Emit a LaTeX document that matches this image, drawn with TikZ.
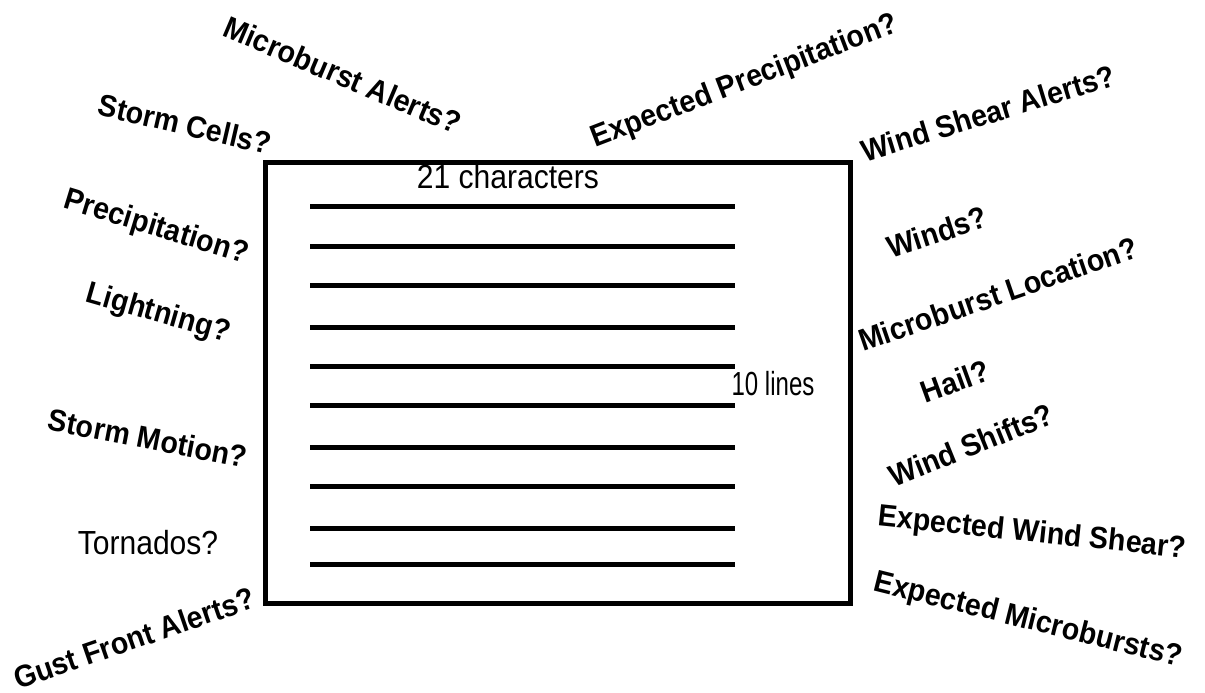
\documentclass[tikz,border=0pt]{standalone}
\usepackage{fontspec}
\setmainfont{Liberation Sans}
\tikzset{
  ask/.style={inner sep=0pt, font=\fontsize{17.5}{19}\selectfont\bfseries, rotate=#1, xscale=0.93},
  plain/.style={inner sep=0pt, anchor=base, font=\fontsize{19}{21}\selectfont},
  rule/.style={line width=0.1cm}
}
\begin{document}
\begin{tikzpicture}[x=0.02cm,y=-0.02cm]
				\useasboundingbox (0,0) rectangle (1205,693);
				\draw[rule] (265,162) rectangle (850,603);
				\foreach \y in {206,246,285,327,366,405,447,486,528,564} {\draw[rule] (310,\y) -- (735,\y);}
				\node[plain, xscale=0.9] (width) at (508,188) {21 characters};
				\node[plain, xscale=0.72] (height) at (773,395) {10 lines};
				\node[plain, xscale=0.9] (tornado) at (148,554) {Tornados?};
				\node[ask=-23] (mbalert) at (343,75) {Microburst Alerts?};
				\node[ask=-13] (cells) at (185,124) {Storm Cells?};
				\node[ask=-17] (precip) at (156,228) {Precipitation?};
				\node[ask=-16] (lightning) at (158,314) {Lightning?};
				\node[ask=-11] (motion) at (148,438) {Storm Motion?};
				\node[ask=19] (gust) at (134,638) {Gust Front Alerts?};
				\node[ask=21] (xprecip) at (745,82) {Expected Precipitation?};
				\node[ask=17] (wsalert) at (988,113) {Wind Shear Alerts?};
				\node[ask=18] (winds) at (937,232) {Winds?};
				\node[ask=19] (mbloc) at (998,294) {Microburst Location?};
				\node[ask=20] (hail) at (955,381) {Hail?};
				\node[ask=22] (shifts) at (971,445) {Wind Shifts?};
				\node[ask=-6] (xshear) at (1032,534) {Expected Wind Shear?};
				\node[ask=-14] (xmb) at (1028,621) {Expected Microbursts?};
				\end{tikzpicture}
\end{document}
